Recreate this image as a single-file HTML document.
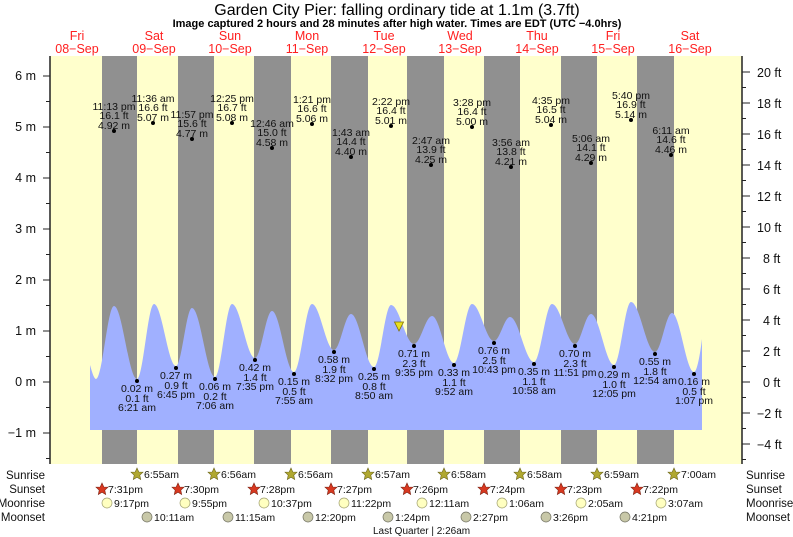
<!DOCTYPE html>
<html><head><meta charset="utf-8"><style>
html,body{margin:0;padding:0;background:#fff;}
svg{display:block;font-family:"Liberation Sans",Arial,sans-serif;}
.d{fill:#ff2020;font-size:12.5px;text-anchor:middle}
.lb{font-size:10.5px;text-anchor:middle;fill:#111}
.ax{font-size:12.5px;fill:#111}
.r{font-size:11.5px;fill:#111}
.s{font-size:10.5px;fill:#111}
</style></head><body>
<svg width="793" height="537" viewBox="0 0 793 537" xmlns="http://www.w3.org/2000/svg">
<text x="397" y="15" font-size="16" text-anchor="middle">Garden City Pier: falling  ordinary tide at 1.1m (3.7ft)</text>
<text x="397" y="27" font-size="11" font-weight="bold" text-anchor="middle">Image captured 2 hours and 28 minutes after high water. Times are EDT (UTC −4.0hrs)</text>
<g class="d">
<text x="77" y="40">Fri</text><text x="77" y="53">08−Sep</text>
<text x="154" y="40">Sat</text><text x="154" y="53">09−Sep</text>
<text x="230" y="40">Sun</text><text x="230" y="53">10−Sep</text>
<text x="307" y="40">Mon</text><text x="307" y="53">11−Sep</text>
<text x="384" y="40">Tue</text><text x="384" y="53">12−Sep</text>
<text x="460" y="40">Wed</text><text x="460" y="53">13−Sep</text>
<text x="537" y="40">Thu</text><text x="537" y="53">14−Sep</text>
<text x="613" y="40">Fri</text><text x="613" y="53">15−Sep</text>
<text x="690" y="40">Sat</text><text x="690" y="53">16−Sep</text>
</g>
<rect x="50" y="56" width="692" height="408" fill="#ffffcc"/>
<g fill="#909090">
<rect x="102" y="56" width="35" height="408"/><rect x="178" y="56" width="36" height="408"/>
<rect x="254" y="56" width="37" height="408"/><rect x="331" y="56" width="37" height="408"/>
<rect x="407" y="56" width="37" height="408"/><rect x="484" y="56" width="36" height="408"/>
<rect x="561" y="56" width="36" height="408"/><rect x="637" y="56" width="37" height="408"/>
</g>
<path fill="#a0b0ff" d="M90,430 L90,365 C92,372 94,379 96,379 C102.5,379 107.5,306 114,306 C122.3,306 128.7,379 137,379 C143.1,379 147.9,304 154,304 C161.9,304 168.1,366 176,366 C181.8,366 186.2,308 192,308 C200.3,308 206.7,377 215,377 C221.1,377 225.9,304 232,304 C240.3,304 246.7,358 255,358 C261.1,358 265.9,311 272,311 C279.9,311 286.1,372 294,372 C300.5,372 305.5,304 312,304 C319.9,304 326.1,350 334,350 C340.1,350 344.9,314 351,314 C359.3,314 365.7,367 374,367 C380.1,367 384.9,305 391,305 C399.3,305 405.7,344 414,344 C420.5,344 425.5,316 432,316 C439.9,316 446.1,363 454,363 C460.5,363 465.5,304 472,304 C479.9,304 486.1,341 494,341 C499.8,341 504.2,317 510,317 C518.6,317 525.4,362 534,362 C540.5,362 545.5,304 552,304 C560.3,304 566.7,344 575,344 C580.8,344 585.2,314 591,314 C599.3,314 605.7,365 614,365 C620.1,365 624.9,302 631,302 C639.6,302 646.4,352 655,352 C661.1,352 665.9,313 672,313 C679.9,313 686.1,372 694,372 C697,372 700,355 702,339 L702,430 Z"/>
<line x1="50" y1="56" x2="50" y2="464" stroke="#222" stroke-width="1.5"/>
<line x1="742" y1="56" x2="742" y2="464" stroke="#222" stroke-width="1.5"/>
<g stroke="#222">
<line x1="43" y1="76" x2="50" y2="76"/><line x1="43" y1="127" x2="50" y2="127"/><line x1="43" y1="178" x2="50" y2="178"/><line x1="43" y1="229" x2="50" y2="229"/><line x1="43" y1="280" x2="50" y2="280"/><line x1="43" y1="331" x2="50" y2="331"/><line x1="43" y1="382" x2="50" y2="382"/><line x1="43" y1="433" x2="50" y2="433"/>
<line x1="46" y1="101.5" x2="50" y2="101.5"/><line x1="46" y1="152.5" x2="50" y2="152.5"/><line x1="46" y1="203.5" x2="50" y2="203.5"/><line x1="46" y1="254.5" x2="50" y2="254.5"/><line x1="46" y1="305.5" x2="50" y2="305.5"/><line x1="46" y1="356.5" x2="50" y2="356.5"/><line x1="46" y1="407.5" x2="50" y2="407.5"/><line x1="46" y1="458.5" x2="50" y2="458.5"/>
<line x1="742" y1="72" x2="750" y2="72"/><line x1="742" y1="103" x2="750" y2="103"/><line x1="742" y1="134" x2="750" y2="134"/><line x1="742" y1="165" x2="750" y2="165"/><line x1="742" y1="196" x2="750" y2="196"/><line x1="742" y1="227" x2="750" y2="227"/><line x1="742" y1="258" x2="750" y2="258"/><line x1="742" y1="289" x2="750" y2="289"/><line x1="742" y1="320" x2="750" y2="320"/><line x1="742" y1="351" x2="750" y2="351"/><line x1="742" y1="382" x2="750" y2="382"/><line x1="742" y1="413" x2="750" y2="413"/><line x1="742" y1="444" x2="750" y2="444"/>
<line x1="742" y1="87.5" x2="746" y2="87.5"/><line x1="742" y1="118.5" x2="746" y2="118.5"/><line x1="742" y1="149.5" x2="746" y2="149.5"/><line x1="742" y1="180.5" x2="746" y2="180.5"/><line x1="742" y1="211.5" x2="746" y2="211.5"/><line x1="742" y1="242.5" x2="746" y2="242.5"/><line x1="742" y1="273.5" x2="746" y2="273.5"/><line x1="742" y1="304.5" x2="746" y2="304.5"/><line x1="742" y1="335.5" x2="746" y2="335.5"/><line x1="742" y1="366.5" x2="746" y2="366.5"/><line x1="742" y1="397.5" x2="746" y2="397.5"/><line x1="742" y1="428.5" x2="746" y2="428.5"/><line x1="742" y1="459.5" x2="746" y2="459.5"/>
</g>
<g class="ax" text-anchor="end">
<text x="36" y="80">6 m</text><text x="36" y="131">5 m</text><text x="36" y="182">4 m</text><text x="36" y="233">3 m</text><text x="36" y="284">2 m</text><text x="36" y="335">1 m</text><text x="36" y="386">0 m</text><text x="36" y="437">−1 m</text>
</g>
<g class="ax">
<text x="757" y="77">20 ft</text><text x="757" y="108">18 ft</text><text x="757" y="139">16 ft</text><text x="757" y="170">14 ft</text><text x="757" y="201">12 ft</text><text x="757" y="232">10 ft</text><text x="763" y="263">8 ft</text><text x="763" y="294">6 ft</text><text x="763" y="325">4 ft</text><text x="763" y="356">2 ft</text><text x="763" y="387">0 ft</text><text x="757" y="418">−2 ft</text><text x="757" y="449">−4 ft</text>
</g>
<g fill="#000">
<circle cx="114" cy="131" r="2"/><circle cx="153" cy="123" r="2"/><circle cx="192" cy="139" r="2"/><circle cx="232" cy="123" r="2"/><circle cx="272" cy="148" r="2"/><circle cx="312" cy="124" r="2"/><circle cx="351" cy="157" r="2"/><circle cx="391" cy="126" r="2"/><circle cx="431" cy="165" r="2"/><circle cx="472" cy="127" r="2"/><circle cx="511" cy="167" r="2"/><circle cx="551" cy="125" r="2"/><circle cx="591" cy="163" r="2"/><circle cx="631" cy="120" r="2"/><circle cx="671" cy="155" r="2"/>
<circle cx="137" cy="381" r="2"/><circle cx="176" cy="368" r="2"/><circle cx="215" cy="379" r="2"/><circle cx="255" cy="360" r="2"/><circle cx="294" cy="374" r="2"/><circle cx="334" cy="352" r="2"/><circle cx="374" cy="369" r="2"/><circle cx="414" cy="346" r="2"/><circle cx="454" cy="365" r="2"/><circle cx="494" cy="343" r="2"/><circle cx="534" cy="364" r="2"/><circle cx="575" cy="346" r="2"/><circle cx="614" cy="367" r="2"/><circle cx="655" cy="354" r="2"/><circle cx="694" cy="374" r="2"/>
</g>
<g class="lb">
<text x="114" y="110">11:13 pm</text><text x="114" y="119">16.1 ft</text><text x="114" y="129">4.92 m</text>
<text x="153" y="102">11:36 am</text><text x="153" y="111">16.6 ft</text><text x="153" y="121">5.07 m</text>
<text x="192" y="118">11:57 pm</text><text x="192" y="127">15.6 ft</text><text x="192" y="137">4.77 m</text>
<text x="232" y="102">12:25 pm</text><text x="232" y="111">16.7 ft</text><text x="232" y="121">5.08 m</text>
<text x="272" y="127">12:46 am</text><text x="272" y="136">15.0 ft</text><text x="272" y="146">4.58 m</text>
<text x="312" y="103">1:21 pm</text><text x="312" y="112">16.6 ft</text><text x="312" y="122">5.06 m</text>
<text x="351" y="136">1:43 am</text><text x="351" y="145">14.4 ft</text><text x="351" y="155">4.40 m</text>
<text x="391" y="105">2:22 pm</text><text x="391" y="114">16.4 ft</text><text x="391" y="124">5.01 m</text>
<text x="431" y="144">2:47 am</text><text x="431" y="153">13.9 ft</text><text x="431" y="163">4.25 m</text>
<text x="472" y="106">3:28 pm</text><text x="472" y="115">16.4 ft</text><text x="472" y="125">5.00 m</text>
<text x="511" y="146">3:56 am</text><text x="511" y="155">13.8 ft</text><text x="511" y="165">4.21 m</text>
<text x="551" y="104">4:35 pm</text><text x="551" y="113">16.5 ft</text><text x="551" y="123">5.04 m</text>
<text x="591" y="142">5:06 am</text><text x="591" y="151">14.1 ft</text><text x="591" y="161">4.29 m</text>
<text x="631" y="99">5:40 pm</text><text x="631" y="108">16.9 ft</text><text x="631" y="118">5.14 m</text>
<text x="671" y="134">6:11 am</text><text x="671" y="143">14.6 ft</text><text x="671" y="153">4.46 m</text>
<text x="137" y="392">0.02 m</text><text x="137" y="402">0.1 ft</text><text x="137" y="411">6:21 am</text>
<text x="176" y="379">0.27 m</text><text x="176" y="389">0.9 ft</text><text x="176" y="398">6:45 pm</text>
<text x="215" y="390">0.06 m</text><text x="215" y="400">0.2 ft</text><text x="215" y="409">7:06 am</text>
<text x="255" y="371">0.42 m</text><text x="255" y="381">1.4 ft</text><text x="255" y="390">7:35 pm</text>
<text x="294" y="385">0.15 m</text><text x="294" y="395">0.5 ft</text><text x="294" y="404">7:55 am</text>
<text x="334" y="363">0.58 m</text><text x="334" y="373">1.9 ft</text><text x="334" y="382">8:32 pm</text>
<text x="374" y="380">0.25 m</text><text x="374" y="390">0.8 ft</text><text x="374" y="399">8:50 am</text>
<text x="414" y="357">0.71 m</text><text x="414" y="367">2.3 ft</text><text x="414" y="376">9:35 pm</text>
<text x="454" y="376">0.33 m</text><text x="454" y="386">1.1 ft</text><text x="454" y="395">9:52 am</text>
<text x="494" y="354">0.76 m</text><text x="494" y="364">2.5 ft</text><text x="494" y="373">10:43 pm</text>
<text x="534" y="375">0.35 m</text><text x="534" y="385">1.1 ft</text><text x="534" y="394">10:58 am</text>
<text x="575" y="357">0.70 m</text><text x="575" y="367">2.3 ft</text><text x="575" y="376">11:51 pm</text>
<text x="614" y="378">0.29 m</text><text x="614" y="388">1.0 ft</text><text x="614" y="397">12:05 pm</text>
<text x="655" y="365">0.55 m</text><text x="655" y="375">1.8 ft</text><text x="655" y="384">12:54 am</text>
<text x="694" y="385">0.16 m</text><text x="694" y="395">0.5 ft</text><text x="694" y="404">1:07 pm</text>
</g>
<polygon points="394.5,322 403.5,322 399,331" fill="#e8e020" stroke="#807000" stroke-width="0.8"/>
<g class="r" text-anchor="end">
<text x="45" y="479">Sunrise</text><text x="45" y="493">Sunset</text><text x="45" y="507">Moonrise</text><text x="45" y="521">Moonset</text>
</g>
<g class="r">
<text x="746" y="479">Sunrise</text><text x="746" y="493">Sunset</text><text x="746" y="507">Moonrise</text><text x="746" y="521">Moonset</text>
</g>
<defs>
<polygon id="st" points="0,-6 1.8,-2 6,-1.8 2.8,1.2 3.7,5.5 0,3.2 -3.7,5.5 -2.8,1.2 -6,-1.8 -1.8,-2"/>
</defs>
<g fill="#b0a830" stroke="#6a6418" stroke-width="0.6">
<use href="#st" x="137" y="474"/><use href="#st" x="214" y="474"/><use href="#st" x="291" y="474"/><use href="#st" x="368" y="474"/><use href="#st" x="444" y="474"/><use href="#st" x="520" y="474"/><use href="#st" x="597" y="474"/><use href="#st" x="674" y="474"/>
</g>
<g fill="#d83820" stroke="#7a2010" stroke-width="0.6">
<use href="#st" x="102" y="489"/><use href="#st" x="178" y="489"/><use href="#st" x="254" y="489"/><use href="#st" x="331" y="489"/><use href="#st" x="407" y="489"/><use href="#st" x="484" y="489"/><use href="#st" x="561" y="489"/><use href="#st" x="637" y="489"/>
</g>
<g class="s">
<text x="144" y="478">6:55am</text><text x="221" y="478">6:56am</text><text x="298" y="478">6:56am</text><text x="375" y="478">6:57am</text><text x="451" y="478">6:58am</text><text x="527" y="478">6:58am</text><text x="604" y="478">6:59am</text><text x="681" y="478">7:00am</text>
<text x="108" y="493">7:31pm</text><text x="184" y="493">7:30pm</text><text x="260" y="493">7:28pm</text><text x="337" y="493">7:27pm</text><text x="413" y="493">7:26pm</text><text x="490" y="493">7:24pm</text><text x="567" y="493">7:23pm</text><text x="643" y="493">7:22pm</text>
</g>
<g fill="#ffffc0" stroke="#a0a070" stroke-width="0.7">
<circle cx="107" cy="503" r="5"/><circle cx="185" cy="503" r="5"/><circle cx="264" cy="503" r="5"/><circle cx="344" cy="503" r="5"/><circle cx="422" cy="503" r="5"/><circle cx="502" cy="503" r="5"/><circle cx="581" cy="503" r="5"/><circle cx="661" cy="503" r="5"/>
</g>
<g fill="#c8c8a8" stroke="#707060" stroke-width="0.7">
<circle cx="147" cy="517" r="5"/><circle cx="228" cy="517" r="5"/><circle cx="308" cy="517" r="5"/><circle cx="388" cy="517" r="5"/><circle cx="466" cy="517" r="5"/><circle cx="546" cy="517" r="5"/><circle cx="625" cy="517" r="5"/>
</g>
<g class="s">
<text x="114" y="507">9:17pm</text><text x="192" y="507">9:55pm</text><text x="271" y="507">10:37pm</text><text x="351" y="507">11:22pm</text><text x="429" y="507">12:11am</text><text x="509" y="507">1:06am</text><text x="588" y="507">2:05am</text><text x="668" y="507">3:07am</text>
<text x="154" y="521">10:11am</text><text x="235" y="521">11:15am</text><text x="315" y="521">12:20pm</text><text x="395" y="521">1:24pm</text><text x="473" y="521">2:27pm</text><text x="553" y="521">3:26pm</text><text x="632" y="521">4:21pm</text>
</g>
<text x="373" y="534" font-size="10" fill="#111">Last Quarter | 2:26am</text>
</svg>
</body></html>
